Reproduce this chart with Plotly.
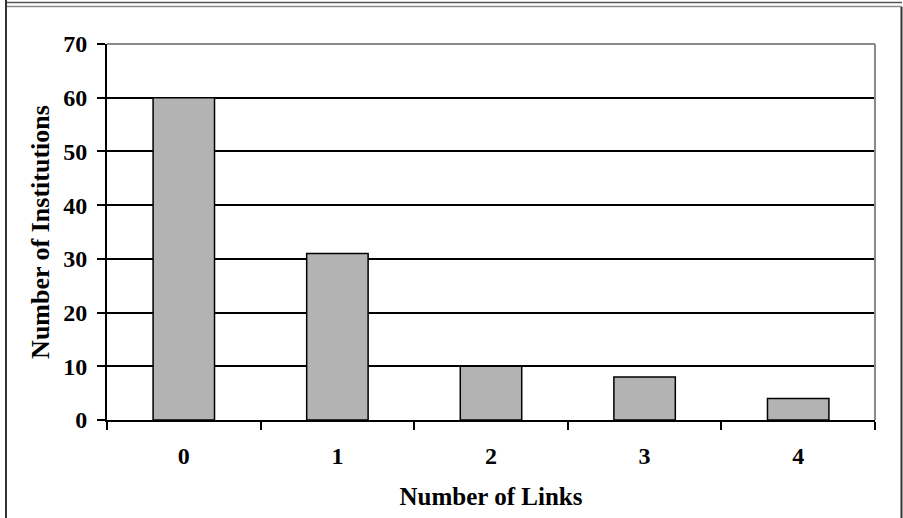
import plotly.graph_objects as go

categories = ["0", "1", "2", "3", "4"]
institutions = [60, 31, 10, 8, 4]
y_ticks = [0, 10, 20, 30, 40, 50, 60, 70]

W, H = 903, 518
L, R, T, B = 107, 875, 44, 420

font_family = "Liberation Serif, Times New Roman, serif"

fig = go.Figure()
fig.add_trace(go.Bar(
    x=categories, y=institutions,
    marker=dict(color="#b3b3b3", line=dict(color="black", width=1.5)),
    width=0.4,
))


def px(x):
    return (x - L) / (R - L)


def py(y):
    return (B - y) / (B - T)


shapes = [
    # plot area top/right gray border
    dict(type="line", xref="paper", yref="paper", x0=0, x1=1, y0=1, y1=1,
         line=dict(color="#8a8a8a", width=2)),
    dict(type="line", xref="paper", yref="paper", x0=1, x1=1, y0=0, y1=1,
         line=dict(color="#8a8a8a", width=2)),
    # outer frame: double top line, left and right lines
    dict(type="line", xref="paper", yref="paper", x0=px(6), x1=px(902), y0=py(2.5), y1=py(2.5),
         line=dict(color="#555555", width=1.5)),
    dict(type="line", xref="paper", yref="paper", x0=px(6), x1=px(902), y0=py(6.5), y1=py(6.5),
         line=dict(color="#8a8a8a", width=1.5)),
    dict(type="line", xref="paper", yref="paper", x0=px(6), x1=px(6), y0=py(0), y1=py(518),
         line=dict(color="#333333", width=2)),
    dict(type="line", xref="paper", yref="paper", x0=px(901.5), x1=px(901.5), y0=py(7), y1=py(518),
         line=dict(color="#333333", width=2)),
]

fig.update_layout(
    width=W, height=H,
    margin=dict(l=L, r=W - R, t=T, b=H - B),
    paper_bgcolor="white", plot_bgcolor="white",
    showlegend=False,
    bargap=0.6,
    font=dict(family=font_family, color="black"),
    xaxis=dict(
        type="category",
        tickson="boundaries",
        ticks="outside", ticklen=8, tickwidth=1.5, tickcolor="black",
        showline=True, linecolor="black", linewidth=2,
        showgrid=False,
        ticklabelstandoff=13,
        tickfont=dict(size=24, family=font_family, weight="bold"),
        title=dict(text="<b>Number of Links</b>", font=dict(size=25, family=font_family), standoff=20),
    ),
    yaxis=dict(
        range=[0, 70],
        tickvals=y_ticks,
        ticks="outside", ticklen=8, tickwidth=1.5, tickcolor="black",
        showline=True, linecolor="black", linewidth=2,
        showgrid=True, gridcolor="black", gridwidth=1.5,
        zeroline=False,
        ticklabelstandoff=5,
        tickfont=dict(size=24, family=font_family, weight="bold"),
        title=dict(text="<b>Number of Institutions</b>", font=dict(size=26, family=font_family), standoff=6),
    ),
    shapes=shapes,
)

fig.write_html(
    "out.html",
    config={"displayModeBar": False},
    post_script="document.body.style.margin='0';document.body.style.overflow='hidden';",
)
